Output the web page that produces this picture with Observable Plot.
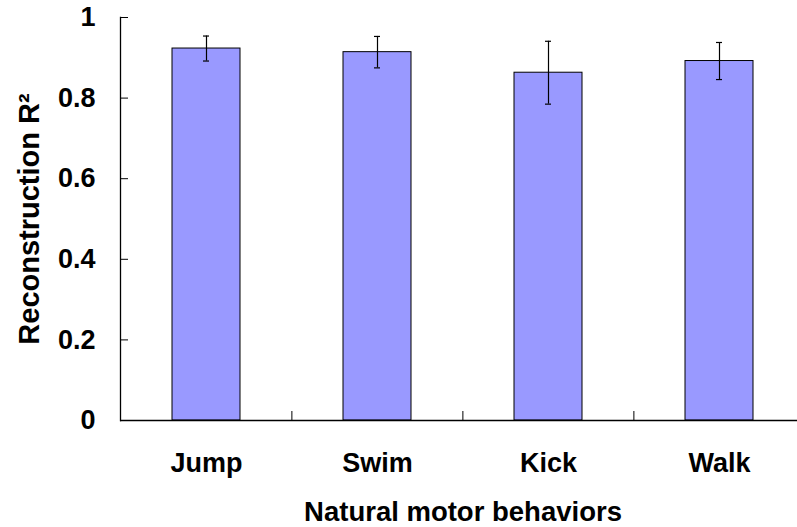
<!DOCTYPE html>
<html>
<head>
<meta charset="utf-8">
<script src="https://cdn.jsdelivr.net/npm/d3@7"></script>
<script src="https://cdn.jsdelivr.net/npm/@observablehq/plot@0.6"></script>
<style>
  html, body { margin: 0; padding: 0; background: white; }
</style>
</head>
<body>
<div id="chart"></div>
<script>
const categories = ["Jump", "Swim", "Kick", "Walk"];
const means = [0.923, 0.914, 0.863, 0.892];
const errors = [0.031, 0.039, 0.078, 0.046];
const yTicks = [0, 0.2, 0.4, 0.6, 0.8, 1];
const xTitle = "Natural motor behaviors";
const yTitle = "Reconstruction R²";

const data = categories.map((c, i) => ({cat: c, mean: means[i], lo: means[i] - errors[i], hi: means[i] + errors[i]}));

const W = 797, H = 527, ML = 120, MR = -8, MT = 17, MB = 107;
const step = (W - ML - MR) / categories.length;
const frameH = H - MT - MB;
const font = "'Liberation Sans', Arial, Helvetica, sans-serif";

const chart = Plot.plot({
  width: W,
  height: H,
  marginLeft: ML,
  marginRight: MR,
  marginTop: MT,
  marginBottom: MB,
  style: {fontFamily: font, fontWeight: "bold", fontSize: "27px", color: "black", background: "white", overflow: "visible"},
  x: {domain: categories, paddingInner: 0.6, paddingOuter: 0.3, axis: null, label: null},
  y: {domain: [0, 1], axis: null, label: null},
  marks: [
    Plot.barY(data, {x: "cat", y: "mean", fill: "#9999ff", stroke: "black", strokeWidth: 1}),
    Plot.ruleX(data, {x: "cat", y1: "lo", y2: "hi", stroke: "black", strokeWidth: 1.2}),
    Plot.tickY(data, {x: "cat", y: "lo", stroke: "black", strokeWidth: 1.2, insetLeft: 31, insetRight: 31}),
    Plot.tickY(data, {x: "cat", y: "hi", stroke: "black", strokeWidth: 1.2, insetLeft: 31, insetRight: 31}),
    Plot.ruleX(categories.slice(1), {x: d => d, dx: -step / 2, insetTop: frameH - 9, stroke: "black"}),
    Plot.ruleY([0], {stroke: "black", strokeWidth: 1.3}),
    Plot.frame({anchor: "left", stroke: "black", strokeWidth: 1.3}),
    Plot.axisY(yTicks, {tickSize: -8, tickPadding: 33, tickFormat: d => String(d), fontSize: 27, fontWeight: "bold", stroke: "black", label: null}),
    Plot.axisX({tickSize: 0, tickPadding: 32, fontSize: 27, fontWeight: "bold", label: null}),
    Plot.text([xTitle], {frameAnchor: "bottom", dy: 100, lineAnchor: "bottom", textAnchor: "middle", fontSize: 27.5, fontWeight: "bold", fill: "black"}),
    Plot.text([yTitle], {frameAnchor: "left", dx: -82, rotate: -90, lineAnchor: "bottom", textAnchor: "middle", fontSize: 29, fontWeight: "bold", fill: "black"})
  ]
});

document.getElementById("chart").appendChild(chart);
</script>
</body>
</html>
